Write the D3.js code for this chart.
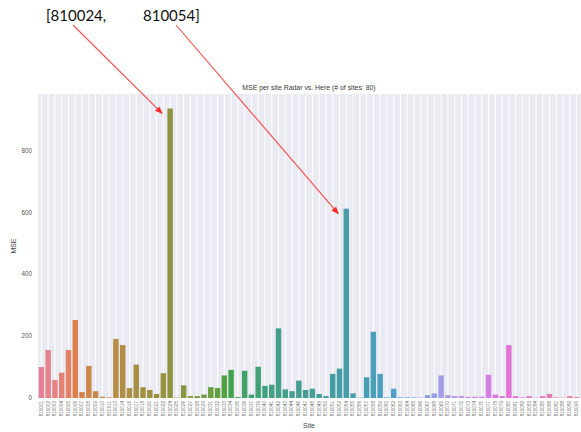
<!DOCTYPE html>
<html>
<head>
<meta charset="utf-8">
<script src="https://cdn.jsdelivr.net/npm/d3@7"></script>
<style>
  body { margin: 0; background: #fff; }
  svg { display: block; overflow: hidden; }
</style>
</head>
<body>
<script>
var sites = ["810001","810002","810003","810004","810005","810006","810007","810008","810009","810010",
             "810011","810013","810014","810016","810017","810018","810020","810021","810022","810024",
             "810025","810026","810027","810028","810029","810031","810032","810033","810034","810035",
             "810036","810037","810039","810040","810041","810042","810043","810044","810046","810047",
             "810048","810049","810050","810051","810052","810054","810055","810056","810057","810058",
             "810059","810060","810062","810063","810064","810065","810066","810067","810068","810069",
             "810070","810071","810072","810073","810074","810075","810077","810078","810079","810080",
             "810081","810082","810083","810084","810085","810086","810087","810088","810089","810090"];

var mse = [100, 155, 58, 82, 155, 252, 19, 104, 22, 4,
           2, 191, 171, 32, 108, 35, 26, 13, 80, 936,
           1, 41, 6, 6, 11, 35, 32, 73, 91, 3,
           88, 11, 101, 39, 43, 225, 28, 22, 56, 26,
           30, 13, 6, 78, 95, 612, 15, 1, 67, 214,
           78, 2, 30, 2, 2, 2, 1, 9, 15, 73,
           9, 6, 6, 4, 4, 4, 75, 11, 6, 171,
           6, 2, 6, 1, 6, 13, 2, 1, 6, 3];

var yTicks = [0, 200, 400, 600, 800];
var title = "MSE per site Radar vs. Here (# of sites: 80)";
var calloutSites = ["810024", "810054"];
var calloutLabels = ["[810024,", "810054]"];

var margin = {top: 94, left: 38},
    width = 542,
    height = 304;

var svg = d3.select("body").append("svg")
    .attr("width", 581)
    .attr("height", 432);

svg.append("rect").attr("width", 581).attr("height", 432).attr("fill", "#fff");

var g = svg.append("g")
    .attr("transform", "translate(" + margin.left + "," + margin.top + ")");

var x = d3.scaleBand()
    .domain(sites)
    .range([0, width])
    .paddingInner(0.2)
    .paddingOuter(0.1);

var y = d3.scaleLinear()
    .domain([0, d3.max(mse) * 1.05])
    .range([height, 0]);

// seaborn husl palette, desaturated like barplot does
function hsluvToRgb(h, s, l) {
  var M = [[3.240969941904521, -1.537383177570093, -0.498610760293],
           [-0.96924363628087, 1.87596750150772, 0.041555057407175],
           [0.055630079696993, -0.20397695888897, 1.056971514242878]];
  var kappa = 903.2962962, eps = 0.0088564516;
  var sub1 = Math.pow(l + 16, 3) / 1560896, sub2 = sub1 > eps ? sub1 : l / kappa;
  var hr = h / 360 * 2 * Math.PI, maxC = Infinity;
  M.forEach(function(m) {
    [0, 1].forEach(function(t) {
      var top1 = (284517 * m[0] - 94839 * m[2]) * sub2;
      var top2 = (838422 * m[2] + 769860 * m[1] + 731718 * m[0]) * l * sub2 - 769860 * t * l;
      var bottom = (632260 * m[2] - 126452 * m[1]) * sub2 + 126452 * t;
      var len = (top2 / bottom) / (Math.sin(hr) - (top1 / bottom) * Math.cos(hr));
      if (len >= 0) maxC = Math.min(maxC, len);
    });
  });
  var c = maxC / 100 * s;
  var u = Math.cos(hr) * c, v = Math.sin(hr) * c;
  var Y = l <= 8 ? l / kappa : Math.pow((l + 16) / 116, 3);
  var vu = u / (13 * l) + 0.19783000664283, vv = v / (13 * l) + 0.46831999493879;
  var X = 0 - (9 * Y * vu) / ((vu - 4) * vv - vu * vv);
  var Z = (9 * Y - 15 * vv * Y - vv * X) / (3 * vv);
  return M.map(function(m) {
    var lin = m[0] * X + m[1] * Y + m[2] * Z;
    var val = lin <= 0.0031308 ? 12.92 * lin : 1.055 * Math.pow(lin, 1 / 2.4) - 0.055;
    return Math.max(0, Math.min(1, val)) * 255;
  });
}

function barColor(i) {
  var h = ((i / sites.length + 0.01) % 1) * 359;
  var rgb = hsluvToRgb(h, 89.1, 64.35);
  var c = d3.hsl(d3.rgb(rgb[0], rgb[1], rgb[2]));
  c.s *= 0.75;
  return c.formatHex();
}

// background + grid
g.append("rect")
    .attr("width", width + 10)
    .attr("height", height)
    .attr("fill", "#eaeaf2");

g.selectAll(".grid")
    .data(sites)
    .enter()
    .append("line")
    .attr("x1", function(d) { return x(d) + x.bandwidth() / 2; })
    .attr("x2", function(d) { return x(d) + x.bandwidth() / 2; })
    .attr("y1", 0)
    .attr("y2", height)
    .attr("stroke", "#fff")
    .attr("stroke-width", 1);

g.selectAll(".bar")
    .data(mse)
    .enter()
    .append("rect")
    .attr("x", function(d, i) { return x(sites[i]); })
    .attr("width", x.bandwidth())
    .attr("y", function(d) { return y(d); })
    .attr("height", function(d) { return height - y(d); })
    .attr("fill", function(d, i) { return barColor(i); });

// y ticks
g.selectAll(".ytick")
    .data(yTicks)
    .enter()
    .append("text")
    .attr("x", -6)
    .attr("y", function(d) { return y(d) + 2.2; })
    .attr("text-anchor", "end")
    .attr("font-family", "Liberation Sans, Arial, sans-serif")
    .attr("font-size", "6.3px")
    .attr("fill", "#555")
    .text(function(d) { return d; });

// x ticks
g.selectAll(".xtick")
    .data(sites)
    .enter()
    .append("text")
    .attr("transform", function(d) {
      return "translate(" + (x(d) + x.bandwidth() / 2 + 1.4) + "," + (height + 3) + ") rotate(-90)";
    })
    .attr("text-anchor", "end")
    .attr("font-family", "Liberation Sans, Arial, sans-serif")
    .attr("font-size", "4.6px")
    .attr("fill", "#707070")
    .text(function(d) { return d; });

g.append("text")
    .attr("x", width / 2)
    .attr("y", -4.5)
    .attr("text-anchor", "middle")
    .attr("font-family", "Liberation Sans, Arial, sans-serif")
    .attr("font-size", "6.9px")
    .attr("fill", "#3a3a3a")
    .text(title);

g.append("text")
    .attr("x", width / 2)
    .attr("y", height + 30)
    .attr("text-anchor", "middle")
    .attr("font-family", "Liberation Sans, Arial, sans-serif")
    .attr("font-size", "6.9px")
    .attr("fill", "#444")
    .text("Site");

g.append("text")
    .attr("transform", "translate(-22," + (height / 2) + ") rotate(-90)")
    .attr("text-anchor", "middle")
    .attr("font-family", "Liberation Sans, Arial, sans-serif")
    .attr("font-size", "6.9px")
    .attr("fill", "#444")
    .text("MSE");

// callout
svg.append("defs").append("marker")
    .attr("id", "head")
    .attr("viewBox", "0 0 10 10")
    .attr("refX", 9)
    .attr("refY", 5)
    .attr("markerWidth", 7)
    .attr("markerHeight", 7)
    .attr("orient", "auto")
    .append("path")
    .attr("d", "M0,1 L10,5 L0,9 z")
    .attr("fill", "#ff2a2a");

var calloutX = [46, 143];
var arrowStartX = [73, 176];

svg.selectAll(".callout")
    .data(calloutLabels)
    .enter()
    .append("text")
    .attr("x", function(d, i) { return calloutX[i]; })
    .attr("y", 20.5)
    .attr("font-family", "Lato, sans-serif")
    .attr("font-size", "15px")
    .attr("fill", "#111")
    .text(function(d) { return d; });

svg.selectAll(".arrow")
    .data(calloutSites)
    .enter()
    .append("line")
    .attr("x1", function(d, i) { return arrowStartX[i]; })
    .attr("y1", 25)
    .attr("x2", function(d) { return margin.left + x(d) + x.bandwidth() / 2 - 8; })
    .attr("y2", function(d) { return margin.top + y(mse[sites.indexOf(d)]) + 5; })
    .attr("stroke", "#ff4a4a")
    .attr("stroke-width", 1.1)
    .attr("marker-end", "url(#head)");
</script>
</body>
</html>
